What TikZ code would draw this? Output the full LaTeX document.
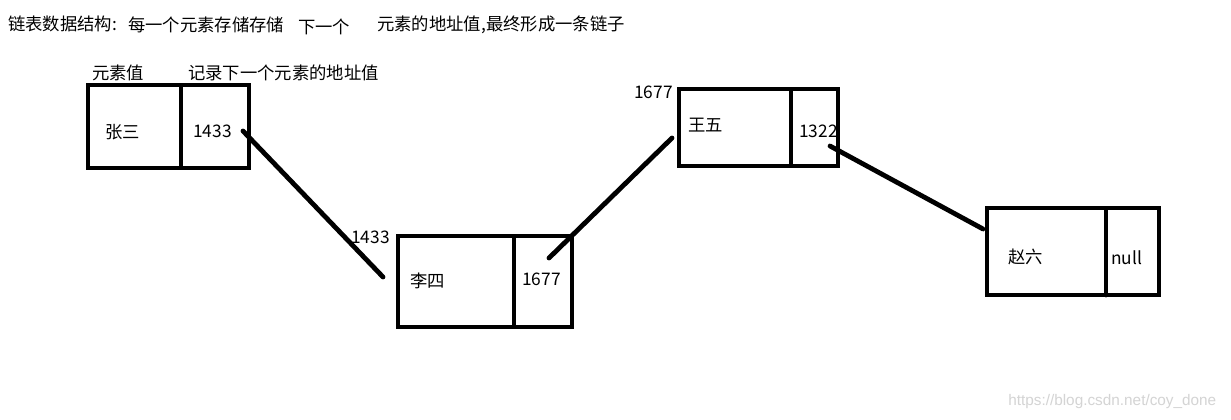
\documentclass[tikz,border=0pt]{standalone}
\usepackage{fontspec}
\setmainfont{Noto Sans CJK SC}
\newfontfamily\wmfont{Liberation Sans}
\begin{document}
\begin{tikzpicture}[x=0.75pt,y=-0.75pt,
  cellbox/.style={draw=black,line width=3.6pt,inner sep=0pt,outer sep=0pt},
  divider/.style={line width=3.6pt},
  link/.style={line width=3.6pt,line cap=round},
  txt/.style={inner sep=0pt,anchor=west,font=\fontsize{13pt}{15pt}\selectfont},
  wm/.style={inner sep=0pt,anchor=west,text=black!17,font=\wmfont\fontsize{11.5pt}{13pt}\selectfont}]
\useasboundingbox[fill=white] (0,0) rectangle (1231,420);
% title
\node[txt] (t1) at (8,24) {链表数据结构:};
\node[txt] (t2) at (128,25) {每一个元素存储存储};
\node[txt] (t3) at (298,27) {下一个};
\node[txt] (t4) at (377,25) {元素的地址值,最终形成一条链子};
\node[txt] (h1) at (92,73) {元素值};
\node[txt] (h2) at (188,73) {记录下一个元素的地址值};
% boxes
\node[cellbox,minimum width=120.75pt,minimum height=62.25pt] (b1) at (168.5,126.5) {};
\draw[divider] (b1.north -| 181,0) -- (b1.south -| 181,0);
\node[cellbox,minimum width=130.5pt,minimum height=68.25pt] (b2) at (485,281.5) {};
\draw[divider] (b2.north -| 514,0) -- (b2.south -| 514,0);
\node[cellbox,minimum width=119.25pt,minimum height=57.75pt] (b3) at (758.5,127.5) {};
\draw[divider] (b3.north -| 791,0) -- (b3.south -| 791,0);
\node[cellbox,minimum width=129pt,minimum height=65.25pt] (b4) at (1073,251.5) {};
\coordinate (d4) at (1106,211);
\draw[divider,line cap=round] (d4) -- (d4 |- b4.south);
% cell texts
\node[txt] (v1) at (105,132) {张三};
\node[txt] (p1) at (193,131) {1433};
\node[txt] (v2) at (410,281) {李四};
\node[txt] (p2) at (522,279) {1677};
\node[txt] (v3) at (688,125) {王五};
\node[txt] (p3) at (799,131) {1322};
\node[txt] (v4) at (1008,257) {赵六};
\node[txt] (p4) at (1111,258) {null};
% address labels
\node[txt] (a2) at (351,237) {1433};
\node[txt] (a3) at (634,92) {1677};
% connectors
\coordinate (c1a) at (243,131);
\coordinate (c1b) at (383,277);
\coordinate (c2a) at (549,258);
\coordinate (c2b) at (672,138);
\coordinate (c3a) at (830,146);
\coordinate (c3b) at (983,229);
\draw[link] (c1a) -- (c1b);
\draw[link] (c2a) -- (c2b);
\draw[link] (c3a) -- (c3b);
% watermark
\node[wm] (w) at (1008,402) {https://blog.csdn.net/coy\_done};
\end{tikzpicture}
\end{document}
